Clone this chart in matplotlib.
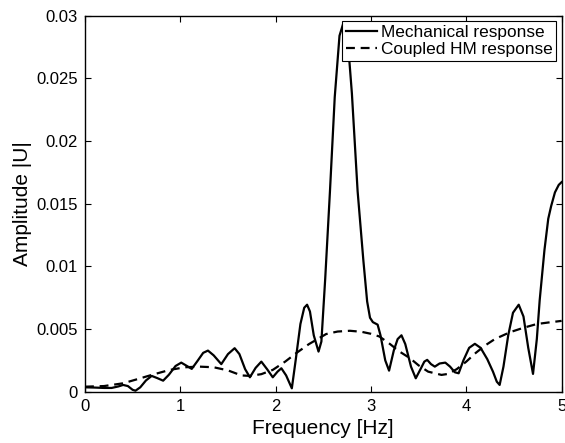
import matplotlib
matplotlib.use("Agg")
import matplotlib.pyplot as plt

# Mechanical response
mech_f = [0.00, 0.10, 0.20, 0.28, 0.35, 0.40, 0.45, 0.50, 0.53, 0.58, 0.64, 0.70, 0.76, 0.82,
          0.88, 0.95, 1.01, 1.07, 1.12, 1.18, 1.24, 1.29, 1.35, 1.43, 1.50, 1.57, 1.62, 1.68,
          1.73, 1.79, 1.85, 1.91, 1.97, 2.02, 2.06, 2.11, 2.17, 2.21, 2.26, 2.30, 2.33, 2.36,
          2.40, 2.45, 2.48, 2.52, 2.57, 2.62, 2.67, 2.71, 2.75, 2.80, 2.86, 2.92, 2.96, 2.99,
          3.02, 3.07, 3.10, 3.15, 3.19, 3.24, 3.28, 3.32, 3.36, 3.42, 3.47, 3.52, 3.56, 3.59,
          3.63, 3.67, 3.72, 3.78, 3.83, 3.88, 3.92, 3.97, 4.03, 4.09, 4.15, 4.22, 4.28, 4.32,
          4.35, 4.39, 4.44, 4.49, 4.55, 4.60, 4.65, 4.70, 4.74, 4.77, 4.82, 4.86, 4.89, 4.93,
          4.97, 5.00]
mech_u = [0.00035, 0.00033, 0.00030, 0.00030, 0.00042, 0.00054, 0.00045, 0.00015, 0.00008,
          0.00035, 0.00090, 0.00126, 0.00108, 0.00088, 0.00135, 0.00205, 0.00232, 0.00205,
          0.00182, 0.00245, 0.00310, 0.00328, 0.00290, 0.00220, 0.00300, 0.00347, 0.00300,
          0.00180, 0.00115, 0.00190, 0.00240, 0.00180, 0.00115, 0.00160, 0.00187, 0.00130,
          0.00027, 0.00250, 0.00540, 0.00670, 0.00694, 0.00640, 0.00450, 0.00320, 0.00400,
          0.00900, 0.01600, 0.02350, 0.02840, 0.02940, 0.02870, 0.02380, 0.01600, 0.01050,
          0.00720, 0.00590, 0.00555, 0.00535, 0.00450, 0.00250, 0.00168, 0.00330, 0.00420,
          0.00450, 0.00380, 0.00200, 0.00107, 0.00180, 0.00240, 0.00254, 0.00220, 0.00200,
          0.00225, 0.00232, 0.00200, 0.00155, 0.00147, 0.00250, 0.00350, 0.00382, 0.00350,
          0.00260, 0.00160, 0.00080, 0.00054, 0.00200, 0.00450, 0.00630, 0.00694, 0.00600,
          0.00350, 0.00142, 0.00420, 0.00730, 0.01130, 0.01380, 0.01480, 0.01590, 0.01650,
          0.01672]

# Coupled HM response
hm_f = [0.0, 0.2, 0.4, 0.55, 0.7, 0.89, 1.05, 1.2, 1.35, 1.5, 1.64, 1.73, 1.85, 1.97, 2.1,
        2.22, 2.35, 2.53, 2.65, 2.78, 2.9, 3.0, 3.09, 3.2, 3.3, 3.41, 3.5, 3.6, 3.74, 3.81,
        3.9, 4.0, 4.1, 4.2, 4.3, 4.46, 4.6, 4.74, 4.86, 5.0]
hm_u = [0.00040, 0.00045, 0.00067, 0.00100, 0.00134, 0.00174, 0.00195, 0.00200, 0.00195,
        0.00170, 0.00130, 0.00126, 0.00140, 0.00174, 0.00240, 0.00310, 0.00380, 0.00460,
        0.00480, 0.00486, 0.00478, 0.00462, 0.00440, 0.00380, 0.00320, 0.00267, 0.00210,
        0.00160, 0.00134, 0.00142, 0.00180, 0.00240, 0.00310, 0.00370, 0.00420, 0.00475,
        0.00510, 0.00540, 0.00552, 0.00565]

xticks = [0, 1, 2, 3, 4, 5]
yticks = [0, 0.005, 0.01, 0.015, 0.02, 0.025, 0.03]
ytick_labels = ["0", "0.005", "0.01", "0.015", "0.02", "0.025", "0.03"]

plt.rcParams['font.family'] = ['Liberation Sans', 'DejaVu Sans']

fig = plt.figure(figsize=(5.65, 4.43), dpi=100)
ax = fig.add_axes([0.1504, 0.1158, 0.8436, 0.8488])

ax.plot(mech_f, mech_u, color='black', linewidth=1.6, linestyle='-', label='Mechanical response')
ax.plot(hm_f, hm_u, color='black', linewidth=1.6, linestyle=(0, (4, 2.6)), label='Coupled HM response')

ax.set_xlim(0, 5)
ax.set_ylim(0, 0.03)
ax.set_xticks(xticks)
ax.set_xticklabels([str(t) for t in xticks])
ax.set_yticks(yticks)
ax.set_yticklabels(ytick_labels)
ax.tick_params(direction='in', top=True, right=True, length=4, width=0.8, labelsize=12, pad=5)
for s in ax.spines.values():
    s.set_linewidth(1.0)

ax.set_xlabel('Frequency [Hz]', fontsize=15, labelpad=4)
ax.set_ylabel('Amplitude |U|', fontsize=15, labelpad=3)

leg = ax.legend(loc='upper right', fontsize=12.4, frameon=True, fancybox=False,
                edgecolor='black', framealpha=1, borderaxespad=0.3, handlelength=1.8,
                handletextpad=0.22, borderpad=0.22, labelspacing=0.12)
leg.get_frame().set_linewidth(0.8)

fig.savefig('out.png', dpi=100)
